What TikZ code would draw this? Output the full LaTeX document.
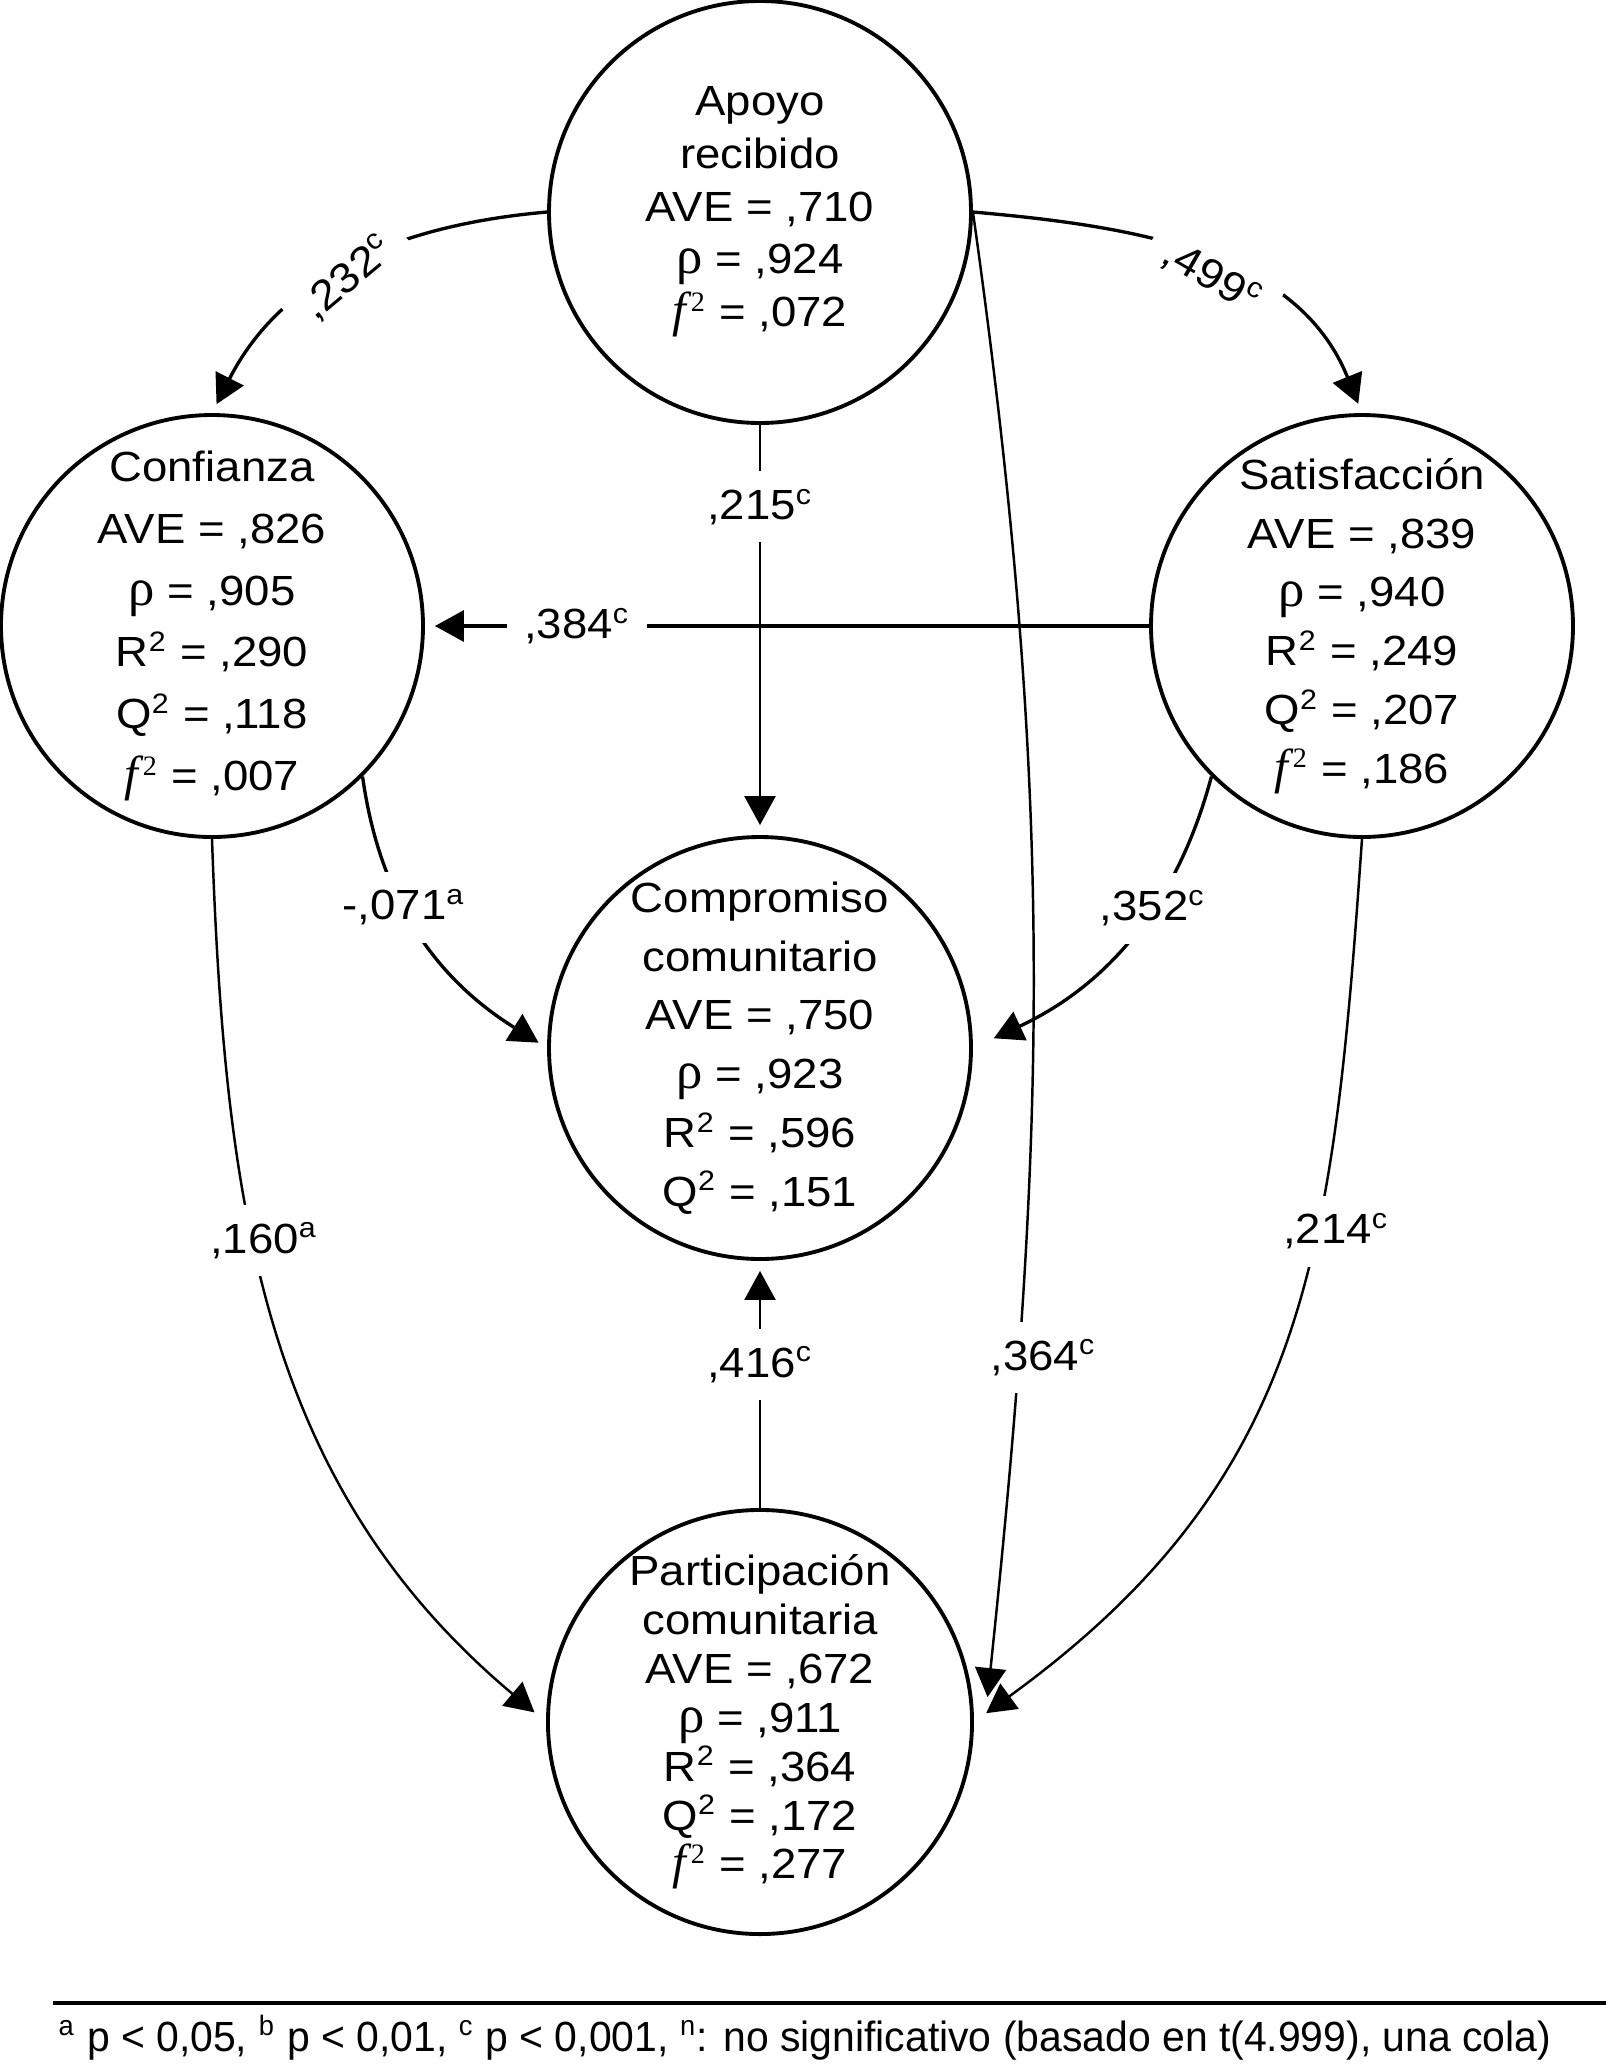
\documentclass[tikz,border=0pt]{standalone}
\usepackage{fontspec}
\setsansfont{Liberation Sans}[FakeStretch=1.08]
\newfontfamily\symserif{Liberation Serif}
\newfontfamily\notefont{Liberation Sans}[FakeStretch=0.97]
\usetikzlibrary{arrows.meta}

\newcommand{\rhosym}{{\symserif\fontsize{15}{15}\selectfont ρ}}
\newcommand{\fsq}{{\symserif\fontsize{14}{15}\selectfont\itshape f\kern1.3pt}\textsuperscript{\symserif 2}}

\begin{document}
\begin{tikzpicture}[
    x=1cm,
    y=1cm,
    font=\sffamily,
    >={Triangle[length=2.9mm,width=3.1mm]},
    construct/.style={
        circle,
        draw,
        line width=1.1pt,
        minimum size=4.22cm,
        inner sep=0pt,
        align=center,
        font=\sffamily\fontsize{12}{#1}\selectfont
    },
    link/.style={->, line width=0.95pt, shorten >=1mm},
    thinlink/.style={->, line width=0.7pt, shorten >=1mm},
    coef/.style={fill=white, inner sep=5pt, font=\sffamily\fontsize{12}{14}\selectfont}
]

\path[use as bounding box] (0,0) rectangle (16.06,-20.69);

% Five constructs of the structural model.
\node[construct=15pt] (apoyo) at (7.60,-2.12)
    {Apoyo\\recibido\\AVE = ,710\\\rhosym{} = ,924\\\fsq{} = ,072};
\node[construct=17.6pt] (conf) at (2.12,-6.26)
    {Confianza\\AVE = ,826\\\rhosym{} = ,905\\R\textsuperscript{2} = ,290\\Q\textsuperscript{2} = ,118\\\fsq{} = ,007};
\node[construct=16.7pt] (sat) at (13.62,-6.26)
    {Satisfacción\\AVE = ,839\\\rhosym{} = ,940\\R\textsuperscript{2} = ,249\\Q\textsuperscript{2} = ,207\\\fsq{} = ,186};
\node[construct=16.7pt] (comp) at (7.60,-10.48)
    {Compromiso\\comunitario\\AVE = ,750\\\rhosym{} = ,923\\R\textsuperscript{2} = ,596\\Q\textsuperscript{2} = ,151};
\node[construct=13.9pt] (part) at (7.60,-17.22)
    {Participación\\comunitaria\\AVE = ,672\\\rhosym{} = ,911\\R\textsuperscript{2} = ,364\\Q\textsuperscript{2} = ,172\\\fsq{} = ,277};

% Paths leaving the received support.
\draw[link] (apoyo.west) to[out=185, in=63]
    node[coef, rotate=40, pos=0.52, yshift=-1mm] (l232) {,232\textsuperscript{c}} (conf.north);
\draw[link] (apoyo.east) to[out=-5, in=112]
    node[coef, rotate=-30, pos=0.53, yshift=-1.5mm] (l499) {,499\textsuperscript{c}} (sat.north);
\draw[thinlink] (apoyo.south) --
    node[coef, pos=0.2] (l215) {,215\textsuperscript{c}} (comp.north);
\draw[thinlink, shorten >=1.5mm] (apoyo.east) to[out=-82, in=84]
    node[coef, pos=0.78, xshift=2.5mm] (l364) {,364\textsuperscript{c}} ([xshift=1.2mm, yshift=1mm]part.east);

% Satisfaction to trust, and both to commitment.
\draw[link] (sat.west) --
    node[coef, pos=0.79] (l384) {,384\textsuperscript{c}} (conf.east);
\draw[link] (conf.south east) to[out=-82, in=148]
    node[coef, pos=0.4] (l071) {-,071\textsuperscript{a}} (comp.west);
\draw[link, shorten >=2.3mm] (sat.south west) to[out=-105, in=25]
    node[coef, pos=0.38] (l352) {,352\textsuperscript{c}} (comp.east);

% Paths into community participation.
\draw[thinlink] (part.north) --
    node[coef, pos=0.58] (l416) {,416\textsuperscript{c}} (comp.south);
\draw[thinlink, shorten >=1.5mm] (conf.south) to[out=-88, in=140]
    node[coef, pos=0.4, xshift=1mm] (l160) {,160\textsuperscript{a}} (part.west);
\draw[thinlink, shorten >=1.5mm] (sat.south) to[out=-94, in=36, looseness=1.1]
    node[coef, pos=0.37, xshift=2mm] (l214) {,214\textsuperscript{c}} (part.east);

% Significance note.
\coordinate (ruleleft) at (0.53,-20.03);
\coordinate (ruleright) at (16.06,-20.03);
\draw[line width=1.1pt] (ruleleft) -- (ruleright);
\node[anchor=base, font=\notefont\fontsize{12}{14}\selectfont] (notes) at (8.05,-20.51)
    {\textsuperscript{a} p < 0,05, \textsuperscript{b} p < 0,01, \textsuperscript{c} p < 0,001, \textsuperscript{n}: no significativo (basado en t(4.999), una cola)};

\end{tikzpicture}
\end{document}
